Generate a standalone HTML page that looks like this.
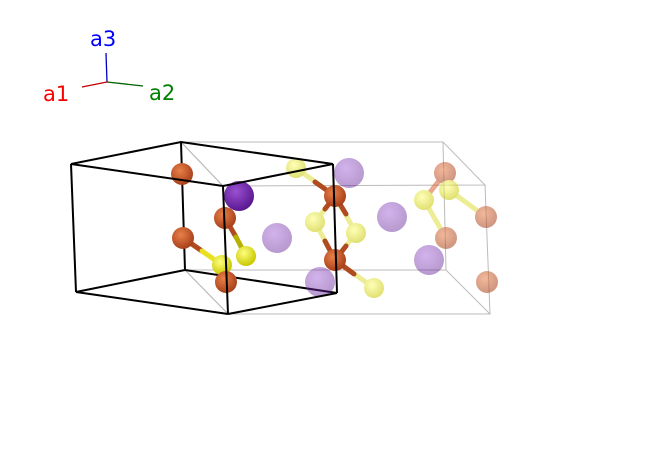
<!DOCTYPE html>
<html><head><style>body{margin:0;background:#fff}svg{display:block}</style></head><body>
<svg width="671" height="457" viewBox="0 0 671 457" xmlns="http://www.w3.org/2000/svg" font-family="DejaVu Sans, Liberation Sans, sans-serif">
<defs>
<radialGradient id="o" cx="40%" cy="35%" r="65%"><stop offset="0" stop-color="#e8804a"/><stop offset="1" stop-color="#a8401a"/></radialGradient>
<radialGradient id="y" cx="40%" cy="35%" r="65%"><stop offset="0" stop-color="#ffff80"/><stop offset="1" stop-color="#c8c800"/></radialGradient>
<radialGradient id="p" cx="40%" cy="35%" r="65%"><stop offset="0" stop-color="#9a50d0"/><stop offset="1" stop-color="#5a1890"/></radialGradient>
</defs>
<line x1="107" y1="82" x2="106" y2="53" stroke="#0000c0" stroke-width="1.3"/>
<line x1="107" y1="82" x2="82" y2="87" stroke="#c00000" stroke-width="1.3"/>
<line x1="107" y1="82" x2="143" y2="86" stroke="#006000" stroke-width="1.3"/>
<text x="90" y="46" font-size="21" fill="#0000ff">a3</text>
<text x="43" y="101" font-size="21" fill="#ff0000">a1</text>
<text x="149" y="100" font-size="21" fill="#008000">a2</text>
<g stroke="#bbb" stroke-width="1" fill="none">
<polygon points="181,142 443,142 485,185 223,186"/>
<polygon points="185,270 446,270 490,314 228,314"/>
<line x1="443" y1="142" x2="446" y2="270"/><line x1="485" y1="185" x2="490" y2="314"/>
<line x1="181" y1="142" x2="223" y2="186"/><line x1="185" y1="270" x2="228" y2="314"/>
</g>
<g stroke="#000" stroke-width="2" fill="none">
<line x1="181" y1="142" x2="185" y2="270"/>
<line x1="76" y1="292" x2="185" y2="270"/><line x1="185" y1="270" x2="337" y2="293"/>
</g>
<g opacity="0.55">
<g stroke-width="5" stroke-linecap="round">
<line x1="445" y1="173" x2="424" y2="200" stroke="#d86030"/>
<line x1="424" y1="200" x2="446" y2="238" stroke="#e0e040"/>
<line x1="449" y1="190" x2="486" y2="217" stroke="#e0e040"/>
<line x1="296" y1="168" x2="335" y2="196" stroke="#e0e040"/>
<line x1="315" y1="222" x2="335" y2="260" stroke="#e0e040"/>
<line x1="356" y1="233" x2="335" y2="260" stroke="#e0e040"/>
<line x1="335" y1="196" x2="315" y2="222" stroke="#e0e040"/>
<line x1="335" y1="196" x2="356" y2="233" stroke="#e0e040"/>
<line x1="335" y1="260" x2="374" y2="288" stroke="#e0e040"/>
</g>
<circle cx="349" cy="173" r="15" fill="url(#p)" opacity="0.8"/>
<circle cx="277" cy="238" r="15" fill="url(#p)" opacity="0.8"/>
<circle cx="392" cy="217" r="15" fill="url(#p)" opacity="0.8"/>
<circle cx="320" cy="282" r="15" fill="url(#p)" opacity="0.8"/>
<circle cx="429" cy="260" r="15" fill="url(#p)" opacity="0.8"/>
<circle cx="445" cy="173" r="11" fill="url(#o)"/>
<circle cx="486" cy="217" r="11" fill="url(#o)"/>
<circle cx="446" cy="238" r="11" fill="url(#o)"/>
<circle cx="487" cy="282" r="11" fill="url(#o)"/>
<circle cx="296" cy="168" r="10" fill="url(#y)"/>
<circle cx="315" cy="222" r="10" fill="url(#y)"/>
<circle cx="356" cy="233" r="10" fill="url(#y)"/>
<circle cx="374" cy="288" r="10" fill="url(#y)"/>
<circle cx="424" cy="200" r="10" fill="url(#y)"/>
<circle cx="449" cy="190" r="10" fill="url(#y)"/>
</g>
<g stroke-width="5" stroke-linecap="round">
<line x1="183" y1="238" x2="202" y2="251" stroke="#b04a20"/><line x1="202" y1="251" x2="222" y2="265" stroke="#e8e020"/>
<line x1="225" y1="218" x2="236" y2="237" stroke="#b04a20"/><line x1="236" y1="237" x2="246" y2="256" stroke="#b8b000"/>
<line x1="335" y1="196" x2="325" y2="209" stroke="#b04a20"/><line x1="335" y1="196" x2="346" y2="214" stroke="#b04a20"/>
<line x1="335" y1="260" x2="325" y2="241" stroke="#b04a20"/><line x1="335" y1="260" x2="346" y2="246" stroke="#b04a20"/>
<line x1="335" y1="260" x2="354" y2="274" stroke="#b04a20"/><line x1="335" y1="196" x2="315" y2="182" stroke="#b04a20"/>
</g>
<circle cx="182" cy="174" r="11" fill="url(#o)"/>
<circle cx="239" cy="196" r="15" fill="url(#p)"/>
<circle cx="225" cy="218" r="11" fill="url(#o)"/>
<circle cx="183" cy="238" r="11" fill="url(#o)"/>
<circle cx="246" cy="256" r="10" fill="url(#y)"/>
<circle cx="222" cy="265" r="10" fill="url(#y)"/>
<circle cx="226" cy="282" r="11" fill="url(#o)"/>
<circle cx="335" cy="196" r="11" fill="url(#o)"/>
<circle cx="335" cy="260" r="11" fill="url(#o)"/>
<g stroke="#000" stroke-width="2" fill="none">
<polygon points="71,164 181,142 333,164 223,186"/>
<line x1="71" y1="164" x2="76" y2="292"/>
<line x1="223" y1="186" x2="228" y2="314"/>
<line x1="333" y1="164" x2="337" y2="293"/>
<line x1="76" y1="292" x2="228" y2="314"/><line x1="228" y1="314" x2="337" y2="293"/>
</g>
</svg>
</body></html>
